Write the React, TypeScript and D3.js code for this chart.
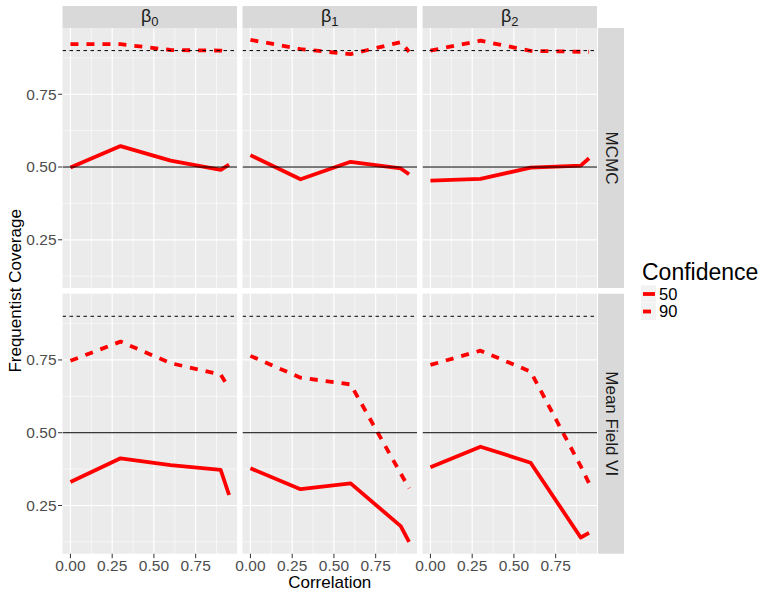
import React from 'react'
import * as d3 from 'd3'

// values
const correlation = [0, 0.3, 0.6, 0.9, 0.95]
const params = ['0', '1', '2']
const methods = ['MCMC', 'Mean Field VI']
const confidenceLevels = ['50', '90']

const mcmcB0_50 = [0.498, 0.572, 0.522, 0.49, 0.508]
const mcmcB0_90 = [0.922, 0.922, 0.902, 0.9, 0.894]
const mcmcB1_50 = [0.541, 0.458, 0.518, 0.495, 0.475]
const mcmcB1_90 = [0.937, 0.905, 0.888, 0.929, 0.896]
const mcmcB2_50 = [0.453, 0.459, 0.498, 0.505, 0.53]
const mcmcB2_90 = [0.9, 0.934, 0.899, 0.896, 0.896]
const mfB0_50 = [0.331, 0.412, 0.389, 0.372, 0.286]
const mfB0_90 = [0.747, 0.813, 0.739, 0.7, 0.653]
const mfB1_50 = [0.378, 0.306, 0.326, 0.179, 0.125]
const mfB1_90 = [0.764, 0.689, 0.666, 0.36, 0.309]
const mfB2_50 = [0.381, 0.452, 0.397, 0.14, 0.156]
const mfB2_90 = [0.733, 0.782, 0.71, 0.385, 0.326]

const xTicks = [0, 0.25, 0.5, 0.75]
const xMinor = [0.125, 0.375, 0.625, 0.875]
const yTicks = [0.25, 0.5, 0.75]
const yMinor = [0.125, 0.375, 0.625, 0.875]
const refLines = [0.5, 0.9]

const series = [
  [[mcmcB0_50, mcmcB0_90], [mcmcB1_50, mcmcB1_90], [mcmcB2_50, mcmcB2_90]],
  [[mfB0_50, mfB0_90], [mfB1_50, mfB1_90], [mfB2_50, mfB2_90]]
]

const font = '"Liberation Sans", Arial, Helvetica, sans-serif'

function expand (ext: number[]) {
  const pad = (ext[1] - ext[0]) * 0.05
  return [ext[0] - pad, ext[1] + pad]
}

export default function App () {
  const width = 764
  const height = 591
  const left = 62.5
  const top = 28
  const panelW = 174.5
  const panelH = 260
  const colStep = 180
  const rowStep = 265.7
  const stripH = 22

  const allY = series.flat(2).flat()
  const x = d3.scaleLinear().domain(expand(d3.extent(correlation) as number[])).range([0, panelW])
  const y = d3.scaleLinear().domain(expand(d3.extent(allY) as number[])).range([panelH, 0])

  const line = d3.line<number>()
    .x((d, i) => x(correlation[i]))
    .y(d => y(d))

  const panelsRight = left + 2 * colStep + panelW

  return (
    <svg width={width} height={height} style={{ position: 'absolute', left: 0, top: 0, fontFamily: font }}>
      <rect width={width} height={height} fill='#fff' />
      <defs>
        <clipPath id='panel-clip'>
          <rect width={panelW} height={panelH} />
        </clipPath>
      </defs>

      {/* column strips */}
      {params.map((p, c) => (
        <g key={'strip' + p} transform={`translate(${left + c * colStep},${top - stripH})`}>
          <rect width={panelW} height={stripH} fill='#d9d9d9' />
          <text x={panelW / 2} y={16} textAnchor='middle' fontSize={18} fill='#1a1a1a'>
            <tspan>β</tspan>
            <tspan dy={4} fontSize={13}>{p}</tspan>
          </text>
        </g>
      ))}

      {methods.map((m, r) => (
        <g key={m}>
          {/* row strip */}
          <g transform={`translate(${panelsRight + 1},${top + r * rowStep})`}>
            <rect width={26} height={panelH} fill='#d9d9d9' />
            <text transform={`translate(13,${panelH / 2}) rotate(90)`} textAnchor='middle'
              dominantBaseline='central' fontSize={17} fill='#1a1a1a'>{m}</text>
          </g>

          {/* y axis */}
          <g transform={`translate(${left},${top + r * rowStep})`}>
            {yTicks.map(t => (
              <g key={t}>
                <line x1={-4.5} x2={0} y1={y(t)} y2={y(t)} stroke='#333' strokeWidth={1} />
                <text x={-6} y={y(t)} dy='0.35em' textAnchor='end' fontSize={15.5} fill='#4d4d4d'>
                  {d3.format('.2f')(t)}
                </text>
              </g>
            ))}
          </g>

          {params.map((p, c) => (
            <g key={m + p} transform={`translate(${left + c * colStep},${top + r * rowStep})`}>
              <rect width={panelW} height={panelH} fill='#ebebeb' />
              {yMinor.map(t => <line key={'ym' + t} x1={0} x2={panelW} y1={y(t)} y2={y(t)} stroke='#fff' strokeWidth={0.6} />)}
              {xMinor.map(t => <line key={'xm' + t} x1={x(t)} x2={x(t)} y1={0} y2={panelH} stroke='#fff' strokeWidth={0.6} />)}
              {yTicks.map(t => <line key={'y' + t} x1={0} x2={panelW} y1={y(t)} y2={y(t)} stroke='#fff' strokeWidth={1.2} />)}
              {xTicks.map(t => <line key={'x' + t} x1={x(t)} x2={x(t)} y1={0} y2={panelH} stroke='#fff' strokeWidth={1.2} />)}
              <g clipPath='url(#panel-clip)'>
                {series[r][c].map((vals, k) => (
                  <path key={k} d={line(vals) || ''} fill='none' stroke='#ff0000' strokeWidth={3.8}
                    strokeDasharray={k === 1 ? '8 8' : undefined} strokeLinejoin='round' />
                ))}
                <line x1={0} x2={panelW} y1={y(refLines[0])} y2={y(refLines[0])} stroke='#000' strokeWidth={1} />
                <line x1={0} x2={panelW} y1={y(refLines[1])} y2={y(refLines[1])} stroke='#000' strokeWidth={1}
                  strokeDasharray='3.5 3.5' />
              </g>
            </g>
          ))}
        </g>
      ))}

      {/* x axis */}
      {params.map((p, c) => (
        <g key={'xa' + p} transform={`translate(${left + c * colStep},${top + rowStep + panelH})`}>
          {xTicks.map(t => (
            <g key={t}>
              <line x1={x(t)} x2={x(t)} y1={0} y2={4.5} stroke='#333' strokeWidth={1} />
              <text x={x(t)} y={17.5} textAnchor='middle' fontSize={15.5} fill='#4d4d4d'>
                {d3.format('.2f')(t)}
              </text>
            </g>
          ))}
        </g>
      ))}

      <text x={(left + panelsRight) / 2} y={588} textAnchor='middle' fontSize={17} fill='#000'>Correlation</text>
      <text transform={`translate(21,${(top + top + rowStep + panelH) / 2}) rotate(-90)`} textAnchor='middle'
        fontSize={17} fill='#000'>Frequentist Coverage</text>

      {/* legend */}
      <g transform='translate(642,0)'>
        <text x={0} y={280} fontSize={23} fill='#000'>Confidence</text>
        {confidenceLevels.map((lv, i) => (
          <g key={lv} transform={`translate(0,${294 + i * 17.5})`}>
            <rect x={-1} y={-8.5} width={15} height={17} fill='#f2f2f2' />
            <line x1={1} x2={13} y1={0} y2={0} stroke='#ff0000' strokeWidth={3.8}
              strokeDasharray={i === 1 ? '8 8' : undefined} />
            <text x={17} y={0} dy='0.35em' fontSize={16.5} fill='#000'>{lv}</text>
          </g>
        ))}
      </g>
    </svg>
  )
}
